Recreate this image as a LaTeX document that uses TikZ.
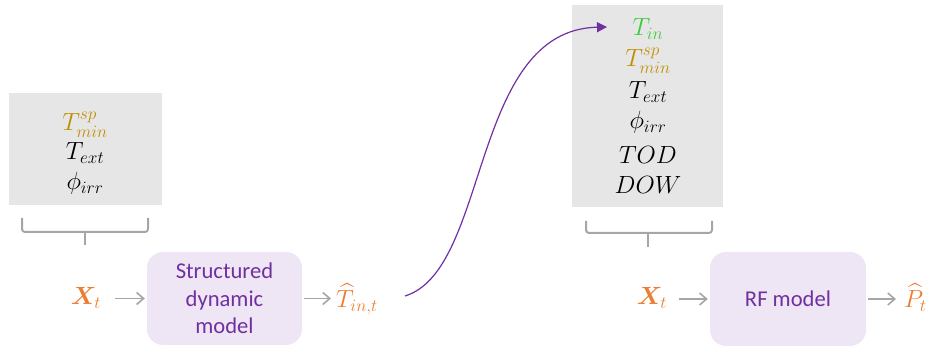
\documentclass[tikz,border=0pt]{standalone}
\usepackage{exscale}
\usepackage{bm}
\usepackage{fontspec}
\newfontfamily\carlito{Carlito}
\DeclareMathSizes{24.88}{24.88}{17.28}{14.4}
\usetikzlibrary{arrows.meta}
\definecolor{boxgray}{HTML}{E6E6E6}
\definecolor{lavender}{HTML}{EEE6F4}
\definecolor{mpurple}{HTML}{7030A0}
\definecolor{gold}{HTML}{BF9000}
\definecolor{morange}{HTML}{ED7D31}
\definecolor{mgreen}{HTML}{3CCB3C}
\definecolor{lgray}{HTML}{A6A6A6}
\tikzset{
  graybox/.style={fill=boxgray, draw=none, inner sep=0pt},
  modelbox/.style={fill=lavender, draw=none, rounded corners=16pt, inner sep=0pt,
    text=mpurple, align=center, font=\carlito\fontsize{22.6}{27.5}\selectfont},
  mtxt/.style={inner sep=0pt, font=\Huge},
  bracket/.style={draw=lgray, line width=2pt, rounded corners=3pt},
  garrow/.style={draw=lgray, line width=1.6pt, -{Straight Barb[length=7pt,width=12pt,line width=1.6pt]}},
  parrow/.style={draw=mpurple, line width=1.2pt, -{Triangle[length=10pt,width=10pt]}}
}
\begin{document}
\begin{tikzpicture}[x=1pt,y=-1pt]
\useasboundingbox (0,0) rectangle (935,347);
% left gray box
\node[graybox, minimum width=153pt, minimum height=112pt] (lbox) at (85.5,149) {};
\node[mtxt, text=gold, anchor=base] (l1) at (85,131) {$T^{sp}_{min}$};
\node[mtxt, anchor=base] (l2) at (85,160) {$T_{ext}$};
\node[mtxt, anchor=base] (l3) at (85,190) {$\phi_{irr}$};
\draw[bracket] (22,218) -- (22,232) -- (148,232) -- (148,218);
\draw[bracket, rounded corners=0pt] (85,232) -- (85,245);
% right gray box
\node[graybox, minimum width=151pt, minimum height=202pt] (rbox) at (647.5,106) {};
\node[mtxt, text=mgreen, anchor=base] (r1) at (648,36) {$T_{in}$};
\node[mtxt, text=gold, anchor=base] (r2) at (648,67) {$T^{sp}_{min}$};
\node[mtxt, anchor=base] (r3) at (648,99) {$T_{ext}$};
\node[mtxt, anchor=base] (r4) at (648,129) {$\phi_{irr}$};
\node[mtxt, anchor=base] (r5) at (648,164) {$TOD$};
\node[mtxt, anchor=base] (r6) at (648,194) {$DOW$};
\draw[bracket] (586,221) -- (586,233) -- (712,233) -- (712,221);
\draw[bracket, rounded corners=0pt] (648,233) -- (648,247);
% bottom left chain
\node[mtxt, text=morange, anchor=base] (xl) at (86,305) {$\bm{X}_t$};
\node[modelbox, minimum width=155pt, minimum height=93pt] (m1) at (224.5,298.5) {Structured\\dynamic\\model};
\node[mtxt, text=morange, anchor=base west] (th) at (336,308) {$\widehat{T}_{in,t}$};
\draw[garrow, shorten <=14pt, shorten >=2pt] (xl.east |- m1.west) -- (m1.west);
\draw[garrow, shorten <=2pt, shorten >=5pt] (m1.east) -- (m1.east -| th.west);
% purple curve
\coordinate (cs) at (405,296);
\coordinate (ce) at (607,27);
\draw[parrow] (cs) .. controls (490,270) and (470,30) .. (ce);
% bottom right chain
\node[mtxt, text=morange, anchor=base] (xr) at (652,305) {$\bm{X}_t$};
\node[modelbox, minimum width=156pt, minimum height=94pt] (m2) at (788,299) {RF model};
\node[mtxt, text=morange, anchor=base west] (ph) at (904,308) {$\widehat{P}_t$};
\draw[garrow, shorten <=12pt, shorten >=2pt] (xr.east |- m2.west) -- (m2.west);
\draw[garrow, shorten <=2pt, shorten >=8pt] (m2.east) -- (m2.east -| ph.west);
\end{tikzpicture}
\end{document}
